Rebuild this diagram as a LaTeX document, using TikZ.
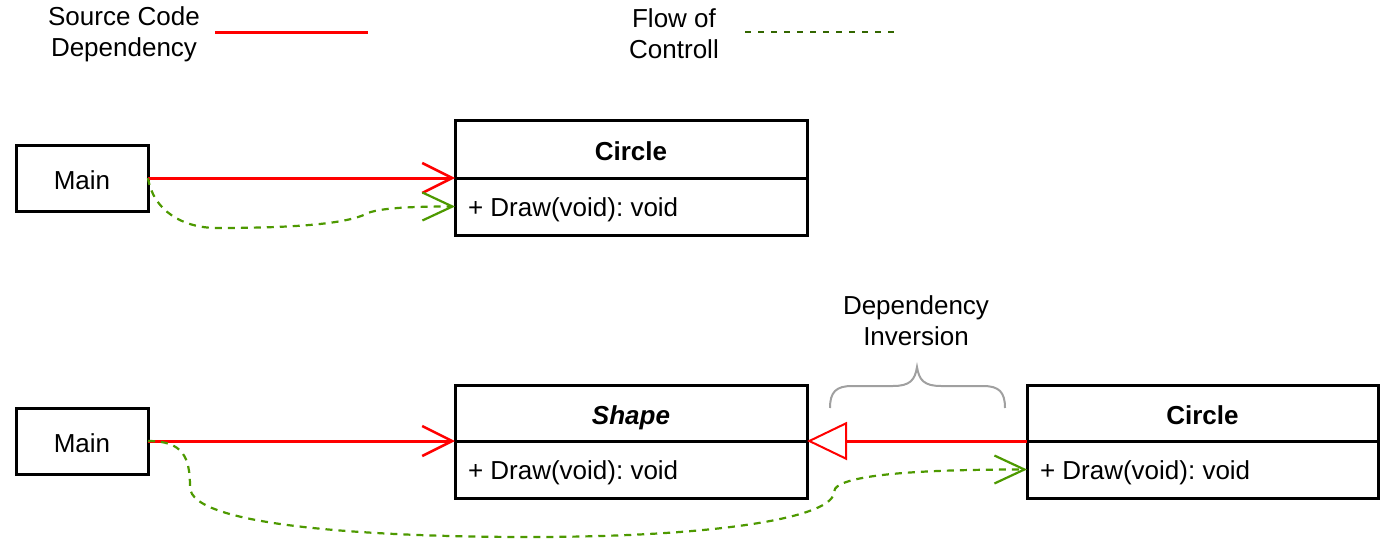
\documentclass[tikz,border=0pt]{standalone}
\usepackage{fontspec}
\setmainfont{Liberation Sans}
\usetikzlibrary{arrows.meta}
\definecolor{flowgreen}{HTML}{4D9900}
\definecolor{legendgreen}{HTML}{336600}
\definecolor{bracegray}{HTML}{A0A0A0}
\begin{document}
\frenchspacing
\begin{tikzpicture}[x=1pt,y=-1pt,
  font=\fontsize{26}{31}\selectfont,
  box/.style={draw=black, line width=3pt, outer sep=0pt, inner sep=0pt, fill=white, text height=24pt, text depth=2pt},
  lbl/.style={inner sep=0pt, outer sep=0pt, align=center},
  dep/.style={draw=red, line width=3pt, -{Straight Barb[length=30pt,width=30pt,line width=2.5pt]}},
  inherit/.style={draw=red, line width=3pt, -{Triangle[open,length=40pt,width=38pt,line width=2pt]}},
  flow/.style={draw=flowgreen, line width=2.2pt, dash pattern=on 7pt off 6pt, -{Straight Barb[length=30pt,width=28pt,line width=2.2pt]}},
  legflow/.style={draw=legendgreen, line width=2.2pt, dash pattern=on 6pt off 7pt},
  legdep/.style={draw=red, line width=3pt},
  bracestyle/.style={draw=bracegray, line width=2pt}
]
\useasboundingbox (0,0) rectangle (1400,546);

% legend
\node[lbl] (legdeptext) at (124,34) {Source Code\\Dependency};
\coordinate (ld1) at (215,32);
\coordinate (ld2) at (368,32);
\draw[legdep] (ld1) -- (ld2);
\node[lbl] (legflowtext) at (674,34) {Flow of\\Controll};
\coordinate (lf1) at (745,32);
\coordinate (lf2) at (895,32);
\draw[legflow] (lf1) -- (lf2);

% top diagram
\node[box, minimum width=132pt, minimum height=66pt] (m1) at (82,178) {Main};
\node[box, minimum width=352pt, minimum height=58pt] (c1h) at (631,149) {\textbf{Circle}};
\node[box, minimum width=352pt, minimum height=57pt, anchor=north] (c1b) at (c1h.south) {};
\node[lbl, anchor=west, yshift=-3pt] (c1t) at ([xshift=13pt]c1b.west) {+ Draw(void): void};

\draw[dep] (m1.east) -- (c1h.south west);
\draw[flow] (m1.east) .. controls +(5,32) and +(-35,0) .. (217,228)
  .. controls +(100,0) and +(-15,8) .. (368,213)
  .. controls +(15,-6) and +(-30,0) .. (c1b.west);

% bottom diagram
\node[box, minimum width=132pt, minimum height=66pt] (m2) at (82,441) {Main};
\node[box, minimum width=352pt, minimum height=56pt] (sh) at (631,413) {\textbf{\textit{Shape}}};
\node[box, minimum width=352pt, minimum height=57pt, anchor=north] (sb) at (sh.south) {};
\node[lbl, anchor=west, yshift=-3pt] (st) at ([xshift=13pt]sb.west) {+ Draw(void): void};

\node[box, minimum width=351pt, minimum height=56pt] (c2h) at (1202.5,413) {\textbf{Circle}};
\node[box, minimum width=351pt, minimum height=57pt, anchor=north] (c2b) at (c2h.south) {};
\node[lbl, anchor=west, yshift=-3pt] (c2t) at ([xshift=13pt]c2b.west) {+ Draw(void): void};

\draw[dep] (m2.east) -- (sh.south west);
\draw[inherit] (c2h.south west) -- (sh.south east);
\draw[flow] (m2.east) .. controls +(35,0) and +(0,-30) .. (190,487)
  .. controls +(0,40) and +(-150,0) .. (530,537)
  .. controls +(190,0) and +(0,25) .. (834,492)
  .. controls +(0,-20) and +(-80,0) .. (c2b.west);

% brace and label
\node[lbl] (dinv) at (916,321) {Dependency\\Inversion};
\draw[bracestyle] (830,408) .. controls (830,392) and (836,386) .. (852,386) -- (893,386)
  .. controls (910,386) and (915,380) .. (917,367)
  .. controls (919,380) and (924,386) .. (941,386) -- (983,386)
  .. controls (999,386) and (1005,392) .. (1005,408);
\end{tikzpicture}
\end{document}
